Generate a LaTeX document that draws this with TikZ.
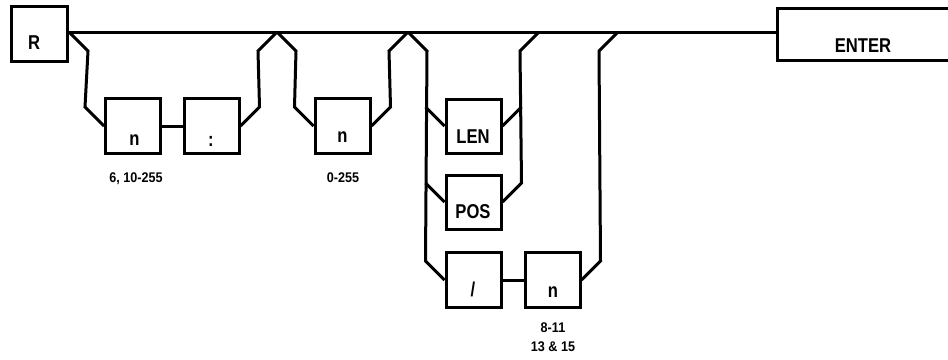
\documentclass[tikz,border=0pt]{standalone}
\usepackage{fontspec}
\newfontfamily\boxfont{Liberation Sans}[FakeStretch=0.83]
\newfontfamily\labfont{Liberation Sans}[FakeStretch=0.9]
\usetikzlibrary{calc}
\begin{document}
\begin{tikzpicture}[x=1pt,y=-1pt,
  conn/.style={line width=3pt},
  sbox/.style={draw,line width=3pt,minimum width=55pt,minimum height=55pt,inner sep=0pt},
  btext/.style={anchor=base,inner sep=0pt,font=\boxfont\bfseries\fontsize{20}{21}\selectfont},
  ltext/.style={anchor=base,inner sep=0pt,font=\labfont\bfseries\fontsize{14}{17}\selectfont}]
\useasboundingbox (0,0) rectangle (948,359);
% boxes
\node[sbox,minimum width=56pt] (R) at (39.5,34) {};
\node[sbox] (n1) at (133,126) {};
\node[sbox] (colon) at (211.5,126) {};
\node[sbox] (n2) at (342.5,126) {};
\node[sbox,minimum height=54pt] (len) at (473.5,126) {};
\node[sbox,minimum height=54pt] (pos) at (473.5,202) {};
\node[sbox] (slash) at (473.5,280) {};
\node[sbox] (n3) at (552.5,280) {};
\node[inner sep=0pt,minimum width=174pt,minimum height=52pt] (enter) at (865,34.5) {};
\draw[line width=3pt] (enter.north east) -- (enter.north west) -- (enter.south west) -- (enter.south east);
% texts
\node[btext] (tR) at (34,49) {R};
\node[btext] (tenter) at (863,52) {ENTER};
\node[btext] (tn1) at (134.5,145) {n};
\node[btext] (tcolon) at (211,146) {:};
\node[btext] (tn2) at (342.5,142) {n};
\node[btext] (tlen) at (473,143) {LEN};
\node[btext] (tpos) at (473,218) {POS};
\node[btext] (tslash) at (473,296) {/};
\node[btext] (tn3) at (553,297) {n};
% labels
\node[ltext] (l1) at (136,182) {6, 10-255};
\node[ltext] (l2) at (343,182) {0-255};
\node[ltext] (l3a) at (553,332) {8-11};
\node[ltext] (l3b) at (553,351) {13 \& 15};
% junctions on main line
\coordinate (main) at (0,32);
\coordinate (j0) at (R.east |- main);
\coordinate (j1) at (277,32);
\coordinate (j2) at (408,32);
\coordinate (j3) at (539,32);
\coordinate (j4) at (618,32);
% main line
\draw[conn] (j0) -- (enter.west |- main);
% loop 1
\draw[conn] (j0) -- ++(19,19) -- ($(n1.west)+(-19,-19)$) -- (n1.west);
\draw[conn] (n1.east) -- (colon.west);
\draw[conn] (colon.east) -- ++(19,-19) -- ($(j1)+(-19,19)$) -- (j1);
% loop 2
\draw[conn] (j1) -- ++(19,19) -- ($(n2.west)+(-19,-19)$) -- (n2.west);
\draw[conn] (n2.east) -- ++(19,-19) -- ($(j2)+(-19,19)$) -- (j2);
% loop 3
\draw[conn] (j2) -- ++(19,19) -- ($(slash.west)+(-19,-19)$) -- (slash.west);
\draw[conn] ($(len.west)+(-19,-19)$) -- (len.west);
\draw[conn] ($(pos.west)+(-19,-19)$) -- (pos.west);
\draw[conn] (pos.east) -- ++(19,-19) -- ($(j3)+(-19,19)$) -- (j3);
\draw[conn] (len.east) -- ++(19,-19);
\draw[conn] (slash.east) -- (n3.west);
\draw[conn] (n3.east) -- ++(19,-19) -- ($(j4)+(-19,19)$) -- (j4);
\end{tikzpicture}
\end{document}
